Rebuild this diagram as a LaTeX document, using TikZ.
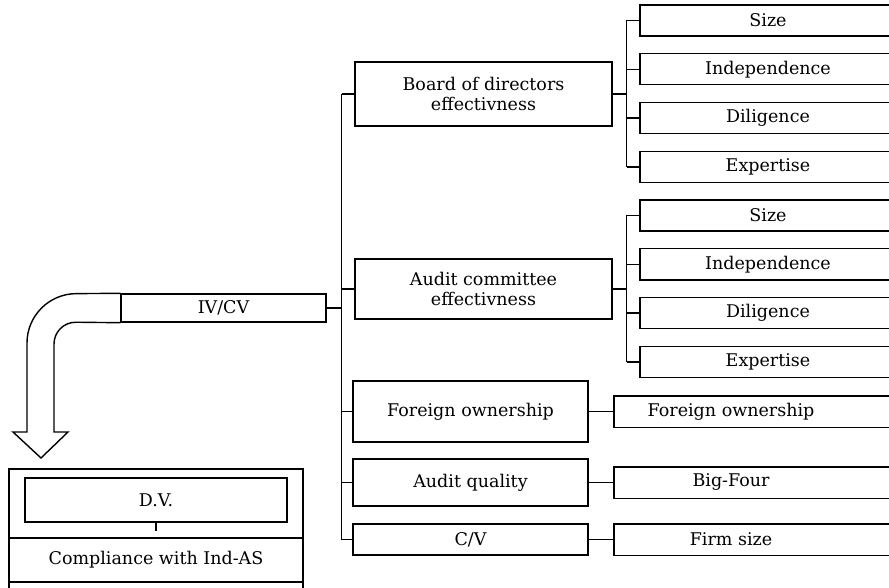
\documentclass[tikz,border=0pt]{standalone}
\usepackage{fontspec}
\setmainfont{DejaVu Serif}

\begin{document}
\begin{tikzpicture}[x=1pt,y=-1pt,
    box/.style={draw,line width=1.4pt,inner sep=0pt,align=center,
      font=\fontsize{17.5}{19.5}\selectfont},
    leaf/.style={inner sep=0pt,minimum width=234pt,minimum height=31pt,
      font=\fontsize{17.5}{19.5}\selectfont},
    link/.style={line width=1.5pt}]
    \useasboundingbox (0,0) rectangle (889,588);
    \clip (0,0) rectangle (889,588);

    % independent variables
    \node[box,minimum width=205pt,minimum height=28pt] (ivcv) at (223.5,308) {IV/CV};
    \node[box,minimum width=257pt,minimum height=64pt] (bod) at (483.5,94) {Board of directors\\effectivness};
    \node[box,minimum width=257pt,minimum height=60pt] (ace) at (483.5,289) {Audit committee\\effectivness};
    \node[box,minimum width=235pt,minimum height=61pt] (fo) at (470.5,411.5) {Foreign ownership};
    \node[box,minimum width=235pt,minimum height=47pt] (aq) at (470.5,482.5) {Audit quality};
    \node[box,minimum width=235pt,minimum height=31pt] (cv) at (470.5,539.5) {C/V};

    % proxies
    \foreach \lbl [count=\i] in {Size,Independence,Diligence,Expertise} {
        \node[box,minimum width=256pt,minimum height=31pt] (bod\i) at (768,{20.5+48.8*(\i-1)}) {\lbl};
        \node[box,minimum width=256pt,minimum height=31pt] (ace\i) at (768,{215.5+48.8*(\i-1)}) {\lbl};
    }
    \foreach \nm/\lbl/\yy in {fo2/Foreign ownership/411.5,bf/Big-Four/482.5,fs/Firm size/539.5} {
        \node[leaf] (\nm) at (731,\yy) {\lbl};
        \draw[line width=1.4pt] (\nm.north west) rectangle ([xshift=120pt]\nm.south east);
    }

    % tree
    \draw[link] (ivcv.east) -- ++(15,0) coordinate (trunk);
    \draw[link] (trunk |- bod.west) -- (trunk |- cv.west);
    \foreach \n in {bod,ace,fo,aq,cv}
        \draw[link] (trunk |- \n.west) -- (\n.west);
    \foreach \n in {bod,ace} {
        \draw[link] (\n.east) -- ++(14,0) coordinate (hub\n);
        \draw[link] (hub\n |- \n1.west) -- (hub\n |- \n4.west);
        \foreach \i in {1,...,4}
            \draw[link] (hub\n |- \n\i.west) -- (\n\i.west);
    }
    \draw[link] (fo.east) -- (fo2.west);
    \draw[link] (aq.east) -- (bf.west);
    \draw[link] (cv.east) -- (fs.west);

    % bent arrow
    \draw[line width=1.4pt] (ivcv.north west) [rounded corners=49pt] -- (27,294)
        [sharp corners] -- (27,432) -- (13,432) -- (41,458) -- (68,432) -- (54,432)
        [rounded corners=22pt] -- (54,322) [sharp corners] -- (ivcv.south west);

    % dependent variable
    \draw[line width=1.2pt] (9,600) -- (9,469) -- (303,469) -- (303,600);
    \node[box,minimum width=262pt,minimum height=44pt] (dv) at (156,500) {D.V.};
    \node[box,line width=1.7pt,minimum width=294pt,minimum height=44pt] (comp) at (156,560) {Compliance with Ind-AS};
    \draw[line width=1.2pt] (dv.south) -- ++(0,8);
\end{tikzpicture}
\end{document}
